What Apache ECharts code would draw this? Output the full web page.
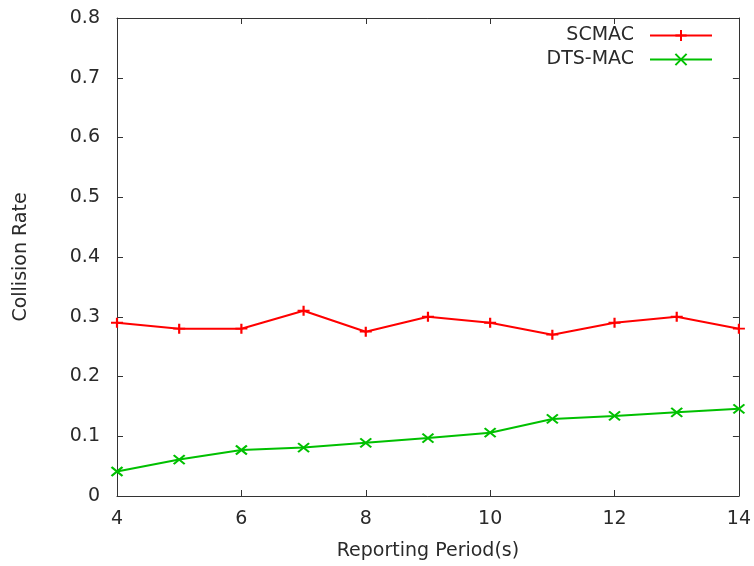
<!DOCTYPE html>
<html><head><meta charset="utf-8">
<script src="https://cdn.jsdelivr.net/npm/echarts@6/dist/echarts.min.js"></script>
<style>html,body{margin:0;padding:0;background:#fff}#c{width:754px;height:566px}</style>
</head><body><div id="c"></div>
<script>
const periods = [4,5,6,7,8,9,10,11,12,13,14];
const scmac = [0.29,0.28,0.28,0.31,0.275,0.30,0.29,0.27,0.29,0.30,0.28];
const dtsmac = [0.041,0.061,0.077,0.081,0.089,0.097,0.106,0.129,0.134,0.140,0.146];
const xTicks = [4,6,8,10,12,14];
const yTicks = [0,0.1,0.2,0.3,0.4,0.5,0.6,0.7,0.8];

const FONT = 'DejaVu Sans';
const FS = 19;
const TXT = '#2a2a2a';
const AX = '#333';
const plus = 'path://M0,5L10,5M5,0L5,10';
const cross = 'path://M0,0L10,10M0,10L10,0';

function axisCommon(showLabels){
  return {
    axisLine:{show:true,onZero:false,lineStyle:{color:AX,width:1}},
    axisTick:{show:true,inside:true,length:6,lineStyle:{color:AX}},
    splitLine:{show:false},
    axisLabel:{show:showLabels,color:TXT,fontFamily:FONT,fontSize:FS}
  };
}
const legendText = {color:TXT,fontFamily:FONT,fontSize:FS,padding:[0,11,0,0]};
const chart = echarts.init(document.getElementById('c'),null,{renderer:'canvas'});
chart.setOption({
  animation:false,
  backgroundColor:'#fff',
  grid:{left:117,right:14,top:18,bottom:70,containLabel:false},
  legend:[
    {data:['SCMAC'],right:36,top:21,orient:'vertical',align:'right',itemWidth:62,itemHeight:14,
     textStyle:legendText},
    {data:['DTS-MAC'],right:36,top:45,orient:'vertical',align:'right',itemWidth:62,itemHeight:14,
     textStyle:legendText}
  ],
  xAxis:[
    Object.assign(axisCommon(true),{type:'value',min:xTicks[0],max:xTicks[xTicks.length-1],interval:2,position:'bottom',
      name:'Reporting Period(s)',nameLocation:'middle',nameGap:46,
      nameTextStyle:{color:TXT,fontFamily:FONT,fontSize:FS},
      axisLabel:{show:true,color:TXT,fontFamily:FONT,fontSize:FS,margin:14}}),
    Object.assign(axisCommon(false),{type:'value',min:xTicks[0],max:xTicks[xTicks.length-1],interval:2,position:'top'})
  ],
  yAxis:[
    Object.assign(axisCommon(true),{type:'value',min:yTicks[0],max:yTicks[yTicks.length-1],interval:0.1,position:'left',
      name:'Collision Rate',nameLocation:'middle',nameGap:86,
      nameTextStyle:{color:TXT,fontFamily:FONT,fontSize:FS},
      axisLabel:{show:true,color:TXT,fontFamily:FONT,fontSize:FS,margin:17,
        formatter:v=>String(Math.round(v*10)/10)}}),
    Object.assign(axisCommon(false),{type:'value',min:yTicks[0],max:yTicks[yTicks.length-1],interval:0.1,position:'right'})
  ],
  series:[
    {name:'SCMAC',type:'line',xAxisIndex:0,yAxisIndex:0,
     data:periods.map((p,i)=>[p,scmac[i]]),
     symbol:plus,symbolSize:[12,10],showSymbol:true,
     lineStyle:{color:'#ff0000',width:2},
     itemStyle:{color:'#ff0000',borderColor:'#ff0000',borderWidth:2}},
    {name:'DTS-MAC',type:'line',xAxisIndex:0,yAxisIndex:0,
     data:periods.map((p,i)=>[p,dtsmac[i]]),
     symbol:cross,symbolSize:[11,9],showSymbol:true,
     lineStyle:{color:'#00c000',width:2},
     itemStyle:{color:'#00c000',borderColor:'#00c000',borderWidth:2}}
  ]
});
</script></body></html>
